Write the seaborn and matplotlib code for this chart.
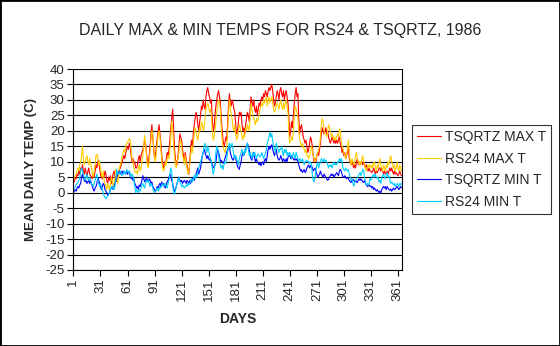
import numpy as np
import pandas as pd
import matplotlib
matplotlib.use("Agg")
import matplotlib.pyplot as plt
import seaborn as sns
from matplotlib.patches import Rectangle

# ---------------- data ----------------
days = list(range(1, 366))

tsqrtz_max = [
    4, 3.5, 5, 4.5, 6, 5.5, 7, 6, 8, 7.5,
    9, 7, 6, 8, 6.5, 5, 7, 8, 6, 5.5,
    5, 4.5, 6, 5, 7, 9, 8, 10, 10.5, 8,
    6, 5, 4.5, 6, 5, 7, 6, 4, 3, 5,
    4, 5.5, 3, 4, 6, 7, 5, 4, 3.5, 5,
    6, 7.5, 8, 9, 10, 11, 12, 11, 13, 14,
    15, 14, 16, 15.5, 12, 10, 11, 9.5, 10, 8,
    8, 9, 11, 12, 10, 12, 13, 14, 15, 17,
    16, 13, 10, 9, 12, 15, 19, 22, 18, 14,
    11, 12, 15, 18, 20, 22, 19, 16, 12, 9,
    8, 10, 9, 11, 13, 12, 14, 17, 21, 24,
    27, 22, 15, 11, 10, 9, 12, 15, 19, 18,
    17, 14, 12, 10, 13, 11, 9, 7, 6, 10,
    14, 17, 15, 19, 22, 24, 26, 25, 22, 20,
    23, 25, 28, 27, 30, 28, 27, 31, 33, 34,
    32, 31, 29, 30, 24, 20, 21, 25, 28, 30,
    32, 33, 31, 29, 24, 20, 17, 15, 16, 18,
    17, 22, 28, 32, 29, 28, 30, 29, 27, 26,
    22, 19, 20, 23, 26, 25, 26, 22, 20, 21,
    19, 22, 24, 26, 25, 23, 27, 31, 29, 28,
    30, 27, 26, 28, 25, 27, 29, 28, 30, 31,
    30, 32, 31, 33, 32, 31, 33, 34, 33, 34,
    35, 33, 30, 28, 29, 31, 33, 32, 30, 33,
    34, 32, 31, 33, 30, 32, 33, 31, 29, 24,
    18, 20, 23, 21, 25, 29, 32, 34, 31, 32,
    24, 19, 21, 22, 20, 18, 17, 16, 17, 15,
    13, 14, 16, 18, 17, 15, 12, 10, 11, 10,
    12, 13, 12, 14, 16, 19, 21, 20, 19, 20,
    21, 19, 20, 18, 17, 16, 17, 18, 17, 16,
    17, 16, 17, 16, 17, 18, 16, 15, 13, 14,
    12, 13, 11, 12, 13, 15, 11, 10, 9, 10,
    9, 8, 9, 8, 10, 11, 9, 10, 9, 10,
    10, 9, 10, 9, 8, 9, 8, 7, 8, 7,
    7, 6.5, 7, 8, 7, 6, 7, 6.5, 7, 8,
    8, 7, 8, 7, 6, 7, 6, 6.5, 7, 6,
    7, 8, 7, 8, 7, 6, 7, 6, 6.5, 6,
    5.5, 6, 7, 6, 5.5,
]

rs24_max = [
    4, 5, 5.5, 6, 7, 8, 7, 9, 10, 12,
    15, 11, 9, 10, 11, 12, 10, 9, 11, 10,
    8, 6, 5, 7, 9, 12, 12.5, 11, 9, 10,
    8, 6, 5, 7, 4, 3, 2, 1, 3, 2,
    1, 3, 5, 4, 2, 3, 5, 7.5, 6, 3,
    5, 8, 9, 10, 12, 13, 14, 13, 15, 16,
    16, 17, 17.5, 17, 14, 11, 10, 8, 7, 6.5,
    7, 6, 8, 9, 7, 8, 10, 12, 15, 18.5,
    16, 12, 9, 8, 10, 13, 17, 20, 19, 15,
    11, 10, 13, 16, 19, 20, 18, 14, 10, 8,
    7, 8, 10, 9, 11, 12, 11, 14, 18, 23,
    21, 16, 12, 9, 8, 10, 11, 13, 16, 17,
    15, 12, 11, 9, 12, 10, 8, 6, 7, 9,
    12, 15, 13, 16, 19, 21, 20, 18, 17, 19,
    21, 20, 23, 22, 20, 21, 24, 27, 28, 29,
    28, 26, 27, 25, 20, 17, 18, 20, 23, 26,
    28, 30, 29, 27, 21, 17, 15, 14, 13, 14,
    15, 19, 25, 30, 28, 25, 24, 21, 20, 22,
    19, 17, 18, 20, 22, 21, 20, 18, 17, 19,
    18, 21, 20, 22, 21, 20, 24, 29, 27, 25,
    24, 23, 22, 24, 23, 24, 25, 27, 28, 29,
    28, 30, 29, 30, 31, 28, 30, 31, 29, 30,
    31, 29, 27, 26, 27, 28, 29, 28, 27, 29,
    30, 28, 27, 29, 27, 29, 30, 28, 26, 19,
    16, 17, 18, 17, 20, 25, 28, 27, 26, 24,
    20, 17, 16, 15, 16, 15, 14, 13, 14, 12,
    12, 11, 12, 13, 15, 14, 12, 11, 10, 11,
    12, 13, 14, 15, 18, 22, 24, 23, 20, 19,
    19, 18, 20, 22, 21, 20, 18, 19, 18, 17,
    18, 17, 18, 19, 18, 20.5, 20, 17, 15, 14,
    13, 12, 11, 12.5, 14, 17, 13, 10, 9, 11,
    10, 9, 10, 12, 13, 11, 10, 9, 10, 9,
    11, 12, 10, 9, 8, 7, 8, 9, 8, 9,
    8, 9, 8, 9.5, 10, 8, 7, 9, 8, 10,
    11, 9, 8, 7, 9, 8, 7, 9, 8, 10,
    9, 11, 12, 10, 9, 8, 9, 7, 8, 10,
    8, 7, 9, 8, 7,
]

tsqrtz_min = [
    0, 0.5, 1, 0.5, 1.5, 2, 1.5, 2.5, 3, 5,
    6, 5, 4, 3.5, 4, 3, 3.5, 4, 3, 4,
    3, 2, 1, 0.5, 1.5, 2, 3, 5, 4, 3,
    2, 1, 2, 3, 2.5, 1, 0.5, 0, -1, -0.5,
    0, 1, 1.5, 2, 1, 2, 3, 4, 5, 6,
    6.5, 7, 6, 6.5, 7, 6, 7, 6.5, 6, 7,
    6, 6.5, 7, 5.5, 4.5, 5, 4, 4.5, 3, 2.5,
    1.5, 2, 1, 2.5, 2, 3, 4, 5.5, 4.5, 3.5,
    4, 5, 4, 3.5, 4.5, 4, 3, 3.5, 2, 1.5,
    1, 0.5, 1, 2, 1.5, 2.5, 3, 2, 3.5, 2.5,
    3, 2, 1.5, 2.5, 3.5, 4, 5, 6, 5.5, 4,
    3, 1.5, 0.5, 1, 2, 3, 4, 5, 4, 3.5,
    4, 3, 3.5, 4, 3.5, 3, 4, 3.5, 3, 4,
    3, 4, 4.5, 5, 4, 5, 6, 7, 8, 6,
    7, 8, 10, 12, 13, 14, 13, 12, 11, 12,
    11, 10.5, 11, 10, 9, 8, 8.5, 9, 10, 12,
    14, 13, 12, 10, 10.5, 10, 9.5, 10, 11, 12,
    13, 14, 14.5, 15, 13, 12, 11, 10.5, 11, 12,
    11, 10, 8.5, 8, 7.5, 9, 10, 12, 13, 12,
    13, 14, 15, 16, 15, 14, 12, 11, 10.5, 12,
    13, 11, 10, 11, 10, 9.5, 9, 9.8, 8.7, 9.5,
    10, 9, 10.5, 11, 10, 12, 14, 15, 14, 15,
    15.5, 14, 13, 12, 13, 14, 12, 11, 10.5, 11,
    12, 11, 10, 11, 10.5, 10, 11, 10, 11.5, 12,
    12, 11, 12, 11.5, 11, 10.5, 11, 10.5, 11, 10,
    9, 8, 7, 7.5, 6.5, 7, 7.5, 6.5, 7, 8,
    8.5, 9, 8, 8.5, 9, 8, 7, 7.5, 8, 7,
    6, 5, 5.5, 6, 7, 6, 5.5, 5, 6, 5.5,
    5, 4.5, 4, 4.3, 5, 5.5, 6, 5.5, 6, 5,
    5.5, 6, 6.5, 6, 5.5, 7, 7.5, 7, 6, 5,
    5, 5.5, 5, 4.5, 5, 4.5, 4, 3.5, 3.3, 4,
    4.3, 4, 3.5, 4, 3.5, 3.3, 4, 4.5, 4, 4.5,
    4, 3.5, 3.3, 4, 3, 2.5, 2, 2.2, 2.5, 2,
    2.2, 1.5, 2, 1, 1.5, 1, 0.5, 1, 0.5, 0,
    0.5, 0, 1, 1.5, 2, 1.5, 2, 1, 2, 1.5,
    1, 0.8, 1.2, 0.5, 1, 1.5, 1, 1.2, 1.5, 2,
    1.5, 1, 1.5, 2, 1.5,
]

rs24_min = [
    1, 1.5, 2, 2.5, 3, 3.5, 4, 5, 7, 8,
    7, 6, 5, 4, 5, 6, 4.5, 4, 5, 4,
    3, 2.5, 2, 3, 4, 5, 6, 4, 3, 2,
    3, 2, 1, 0, -1, -1.5, -2, -1.5, -1, -0.5,
    0, 1, 2, 1.5, 2, 1, 2, 4, 7.6, 6,
    6, 6.5, 7, 6, 5.5, 6, 7, 6.5, 6, 7.5,
    7, 6.5, 7, 6, 5, 6, 5.5, 4, 2, 0,
    1, 0.5, 0, 1, 0.5, 1.5, 2.5, 3, 2, 1.5,
    3, 4, 3.5, 4, 3, 2, 3, 2.5, 1.5, 0.5,
    0, 0.5, 1, 1.5, 0.5, 1, 2, 1.5, 2.5, 3,
    2, 2.5, 3, 2, 1.5, 3, 4, 6, 8, 7,
    3, 0, -0.5, 0.5, 2, 3, 4.5, 5, 3.5, 3,
    2, 2.5, 2, 1.5, 2, 2.5, 2, 3, 2.5, 3,
    4, 4.5, 3.5, 4.5, 5.5, 4.5, 6, 5, 6.5, 8,
    9, 10, 11, 12, 13, 15, 16, 14, 13, 15,
    14, 12, 11, 10, 8, 6, 7, 9, 13, 15,
    14, 12, 10, 9, 8, 9, 7.5, 9, 10, 9.5,
    11, 13, 15, 16, 14, 15.5, 16, 14, 12, 11,
    12, 11, 10, 9, 11, 12, 13, 14, 13, 12,
    14, 13, 15, 16, 14, 12, 13, 12, 11, 13,
    12, 13, 12, 11, 12, 12.5, 12, 11.5, 12, 13,
    12, 11, 12, 12.5, 14, 16, 17, 18, 19.6, 18,
    19, 17, 15, 14, 13, 16, 15, 14, 13, 14,
    14, 15, 13, 12, 14, 13, 14, 12, 13, 12,
    13, 12, 11, 12, 13, 12, 11, 13, 12, 11,
    10, 11, 10.5, 10, 11, 10, 9, 10, 10, 10.5,
    10, 10, 9.5, 10, 9, 6, 4, 3.5, 5, 7,
    9, 10, 8, 9, 10, 11, 10.5, 10, 11, 10,
    10.5, 10, 9, 8, 9, 8.5, 9, 8, 9, 10,
    9, 9.5, 9, 10, 9.8, 11, 10, 11, 10, 8,
    7.5, 7, 8, 7.5, 7, 7.5, 6, 5, 4, 4.5,
    3, 2.2, 3, 4, 4.5, 5, 5.5, 6, 6.5, 5.5,
    6.5, 7.6, 7, 5, 3.3, 2.5, 3, 2.5, 3, 4.5,
    4, 5, 5.5, 6, 5, 6, 5, 4.5, 5, 3.5,
    4, 3, 5, 5.5, 6, 5, 4.5, 6, 6.5, 5,
    5.5, 4, 3, 3.5, 3, 2.5, 3, 2, 2.5, 3,
    2.5, 2, 3, 2.5, 3,
]

series_names = ["TSQRTZ MAX T", "RS24 MAX T", "TSQRTZ MIN T", "RS24 MIN T"]
series_colors = ["#FF0000", "#FFCC00", "#0000FF", "#00CCFF"]
y_ticks = list(range(-25, 41, 5))
x_ticks = list(range(1, 366, 30))

# ---------------- build table ----------------
frames = []
for name, vals in zip(series_names, [tsqrtz_max, rs24_max, tsqrtz_min, rs24_min]):
    frames.append(pd.DataFrame({"day": days, "temp": vals, "series": name}))
df = pd.concat(frames, ignore_index=True)

# ---------------- plot ----------------
sns.set_style("white")
plt.rcParams["font.family"] = ["Liberation Sans", "DejaVu Sans"]

fig = plt.figure(figsize=(5.6, 3.46), dpi=100)
fig.patch.set_facecolor("white")
ax = fig.add_axes([73 / 560, 1 - 270 / 346, (402 - 73) / 560, (270 - 69) / 346])

sns.lineplot(data=df, x="day", y="temp", hue="series", hue_order=series_names,
             palette=dict(zip(series_names, series_colors)), estimator=None,
             linewidth=0.8, ax=ax)

ax.set_xlim(0.5, 365.5)
ax.set_ylim(-25, 40)
ax.set_yticks(y_ticks)
ax.set_yticklabels([str(v) for v in y_ticks], fontsize=9.5)
ax.set_xticks(x_ticks)
ax.set_xticklabels([str(v) for v in x_ticks], fontsize=9.5, rotation=90)
ax.yaxis.grid(True, color="black", linewidth=0.8)
ax.set_axisbelow(True)
for s in ["left", "bottom", "right"]:
    ax.spines[s].set_visible(True)
    ax.spines[s].set_color("black")
    ax.spines[s].set_linewidth(0.8)
ax.spines["top"].set_visible(False)
ax.tick_params(axis="both", direction="out", length=4, width=0.8, color="black",
               left=True, bottom=True, pad=2)

ax.set_xlabel("DAYS", fontsize=10, fontweight="bold", labelpad=8)
ax.set_ylabel("MEAN DAILY TEMP (C)", fontsize=9.5, fontweight="bold", labelpad=6)

fig.text(0.5, 1 - 31 / 346, "DAILY MAX & MIN TEMPS FOR RS24 & TSQRTZ, 1986",
         ha="center", va="center", fontsize=11.5)

handles, labels = ax.get_legend_handles_labels()
if ax.get_legend() is not None:
    ax.get_legend().remove()
leg = fig.legend(handles, labels, loc="upper left",
                 bbox_to_anchor=(412 / 560, 1 - 125 / 346), fontsize=10,
                 frameon=True, fancybox=False, handlelength=1.75,
                 handletextpad=0.3, labelspacing=0.55, borderpad=0.35,
                 borderaxespad=0)
leg.get_frame().set_edgecolor("black")
leg.get_frame().set_linewidth(0.8)
for h in leg.get_lines():
    h.set_linewidth(0.8)

fig.add_artist(Rectangle((0, 0), 1, 1, transform=fig.transFigure, fill=False,
                         edgecolor="black", linewidth=2))

fig.savefig("out.png", dpi=100)
